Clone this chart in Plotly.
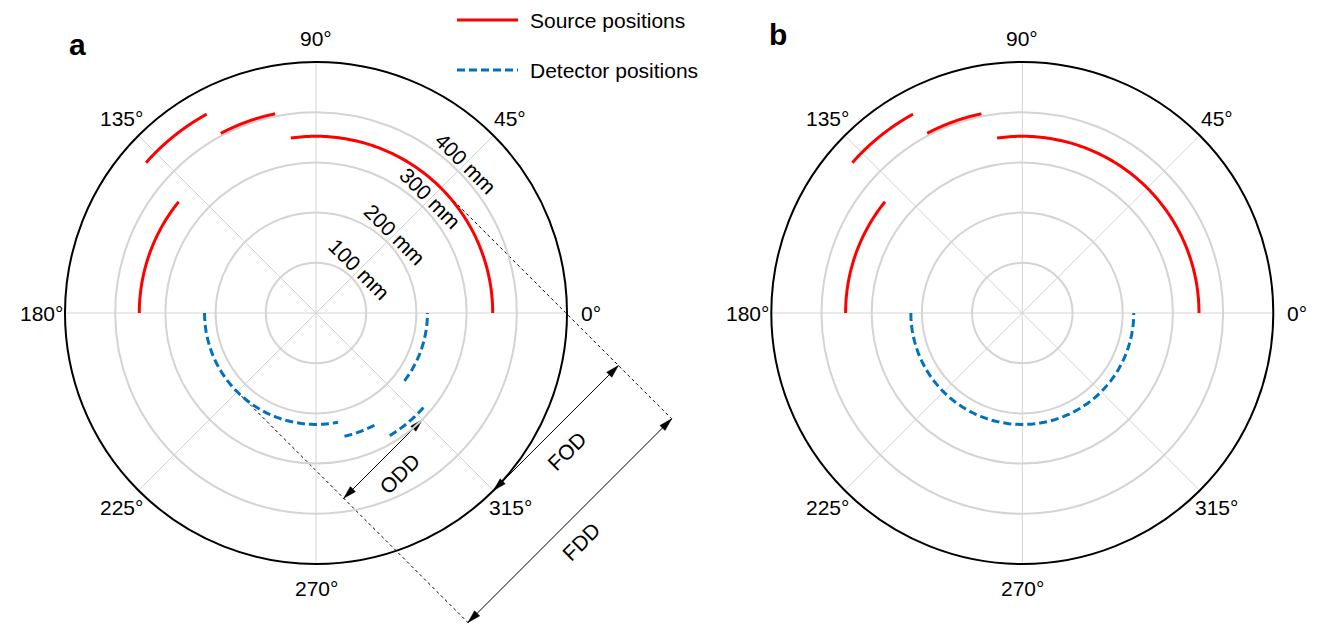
import numpy as np
import plotly.graph_objects as go

# ---------------- data (mm, degrees) ----------------
SRC_R = [352, 352, 452, 405]
SRC_T0 = [0, 141, 118.8, 101.6]
SRC_T1 = [98.2, 180, 138.5, 117.9]

DETA_R = [222, 252, 285, 222]
DETA_T0 = [180, 283, 301, 322.5]
DETA_T1 = [281.4, 299.3, 320, 360]

DETB_R = [222]
DETB_T0 = [180]
DETB_T1 = [360]

RADIAL_TICKS = [100, 200, 300, 400]
ANGLE_TICKS = [0, 45, 90, 135, 180, 225, 270, 315]
R_MAX = 500

# geometry for dimension lines (panel a)
SRC_ANGLE, SRC_DIST = 45, 352
DET_ANGLE, DET_DIST = 225, 222
BEAM_ANGLE = 315
FOD_AT, ODD_AT, FDD_AT = 500, 300, 650
LINE_LEN_O, LINE_LEN_S, LINE_LEN_D = 500, 650, 660

# ---------------- layout constants ----------------
W, H = 1317, 624
R_PX = 251
CXA, CY = 316, 313
CXB = 1022.3
s = R_PX / R_MAX            # px per mm
FONT = "Arial, Liberation Sans, sans-serif"
FS = 21
RED = "#ff0000"
BLUE = "#0072bd"
GRID = "#d4d4d4"
DASH = "8px,4px"
HEAD_L, HEAD_W = 13 / s, 3.6 / s   # arrowhead length / half width in mm
ANG_LABEL_R = R_MAX + 24 / s       # angular label centre radius in mm
PANEL_B_DX = (CXB - CXA) / s       # panel b centre offset in mm


def arc(r, t0, t1):
    th = np.linspace(t0, t1, 120)
    return [r] * len(th), th


fig = go.Figure()


def add_arcs(R, T0, T1, color, dash, subplot):
    for r, a, b in zip(R, T0, T1):
        rr, th = arc(r, a, b)
        fig.add_trace(go.Scatterpolar(r=rr, theta=th, mode="lines",
                                      line=dict(color=color, width=3, dash=dash),
                                      showlegend=False, subplot=subplot, hoverinfo="skip"))


add_arcs(SRC_R, SRC_T0, SRC_T1, RED, "solid", "polar")
add_arcs(DETA_R, DETA_T0, DETA_T1, BLUE, DASH, "polar")
add_arcs(SRC_R, SRC_T0, SRC_T1, RED, "solid", "polar2")
add_arcs(DETB_R, DETB_T0, DETB_T1, BLUE, DASH, "polar2")


def pol(r, deg):
    a = np.deg2rad(deg)
    return np.array([r * np.cos(a), r * np.sin(a)])


O = np.array([0.0, 0.0])
S = pol(SRC_DIST, SRC_ANGLE)
D = pol(DET_DIST, DET_ANGLE)
u = pol(1, BEAM_ANGLE)

# dotted lines on an overlay cartesian axis in mm
for P, L in [(O, LINE_LEN_O), (S, LINE_LEN_S), (D, LINE_LEN_D)]:
    Q = P + L * u
    fig.add_trace(go.Scatter(x=[P[0], Q[0]], y=[P[1], Q[1]], mode="lines",
                             line=dict(color="black", width=1, dash="dot"),
                             showlegend=False, hoverinfo="skip"))


def head(tip, frm):
    d = (tip - frm) / np.linalg.norm(tip - frm)
    n = np.array([-d[1], d[0]])
    base = tip - HEAD_L * d
    pts = [tip, base + HEAD_W * n, base - HEAD_W * n, tip]
    fig.add_trace(go.Scatter(x=[p[0] for p in pts], y=[p[1] for p in pts], mode="lines",
                             fill="toself", fillcolor="black", line=dict(color="black", width=0.5),
                             showlegend=False, hoverinfo="skip"))


def dim_arrow(A, B):
    fig.add_trace(go.Scatter(x=[A[0], B[0]], y=[A[1], B[1]], mode="lines",
                             line=dict(color="black", width=1),
                             showlegend=False, hoverinfo="skip"))
    head(A, B)
    head(B, A)


dim_arrow(S + FOD_AT * u, O + FOD_AT * u)
dim_arrow(O + ODD_AT * u, D + ODD_AT * u)
dim_arrow(S + FDD_AT * u, D + FDD_AT * u)

annotations = []
# dimension labels (mm)
for txt, (x, y) in [("FOD", (499, -276)), ("FDD", (529, -456)), ("ODD", (167, -319))]:
    annotations.append(dict(x=x, y=y, xref="x", yref="y", text=txt, showarrow=False,
                            textangle=-45, xanchor="center", yanchor="middle",
                            font=dict(size=FS, color="black", family=FONT)))

# radial tick labels along 45 deg
for v in RADIAL_TICKS:
    p = pol(v + 22, 45)
    annotations.append(dict(x=p[0], y=p[1], xref="x", yref="y", text=f"{v} mm",
                            showarrow=False, textangle=45, xanchor="center", yanchor="middle",
                            font=dict(size=FS, color="black", family=FONT)))

# angular tick labels, both panels
for dx in (0, PANEL_B_DX):
    for a in ANGLE_TICKS:
        p = pol(ANG_LABEL_R, a)
        annotations.append(dict(x=p[0] + dx, y=p[1], xref="x", yref="y", text=f"{a}°",
                                showarrow=False, xanchor="center", yanchor="middle",
                                font=dict(size=FS, color="black", family=FONT)))

# panel letters
for txt, px, py in [("a", 77, 45), ("b", 778, 34)]:
    annotations.append(dict(x=px / W, y=1 - py / H, xref="paper", yref="paper",
                            text=f"<b>{txt}</b>", showarrow=False,
                            xanchor="center", yanchor="middle",
                            font=dict(size=30, color="black", family=FONT)))

# legend
LEG = [("Source positions", RED, "solid", 20), ("Detector positions", BLUE, DASH, 70)]
shapes = []
for name, col, dash, yy in LEG:
    shapes.append(dict(type="line", xref="paper", yref="paper", x0=457 / W, x1=518 / W,
                       y0=1 - yy / H, y1=1 - yy / H, line=dict(color=col, width=3, dash=dash)))
    annotations.append(dict(x=528 / W, y=1 - yy / H, xref="paper", yref="paper", text=name,
                            xanchor="left", yanchor="middle", showarrow=False,
                            font=dict(size=FS, color="black", family=FONT)))


def polar_layout(cx):
    return dict(
        domain=dict(x=[(cx - R_PX) / W, (cx + R_PX) / W],
                    y=[(H - CY - R_PX) / H, (H - CY + R_PX) / H]),
        bgcolor="rgba(0,0,0,0)",
        radialaxis=dict(range=[0, R_MAX], tickvals=RADIAL_TICKS, showticklabels=False,
                        showline=False, ticks="", gridcolor=GRID, gridwidth=1.5),
        angularaxis=dict(tickvals=ANGLE_TICKS, showticklabels=False,
                         direction="counterclockwise", rotation=0, ticks="",
                         showline=True, linecolor="black", linewidth=2,
                         gridcolor=GRID, gridwidth=1),
    )


fig.update_layout(
    width=W, height=H, margin=dict(l=0, r=0, t=0, b=0, pad=0),
    paper_bgcolor="white", plot_bgcolor="rgba(0,0,0,0)",
    showlegend=False,
    polar=polar_layout(CXA), polar2=polar_layout(CXB),
    xaxis=dict(domain=[0, 1], range=[-CXA / s, (W - CXA) / s], visible=False, fixedrange=True),
    yaxis=dict(domain=[0, 1], range=[-(H - CY) / s, CY / s], visible=False, fixedrange=True),
    annotations=annotations, shapes=shapes,
    font=dict(family=FONT, color="black"),
)

fig.write_html("out.html", config={"displayModeBar": False},
               post_script="document.body.style.margin='0px';document.body.style.overflow='hidden';")
